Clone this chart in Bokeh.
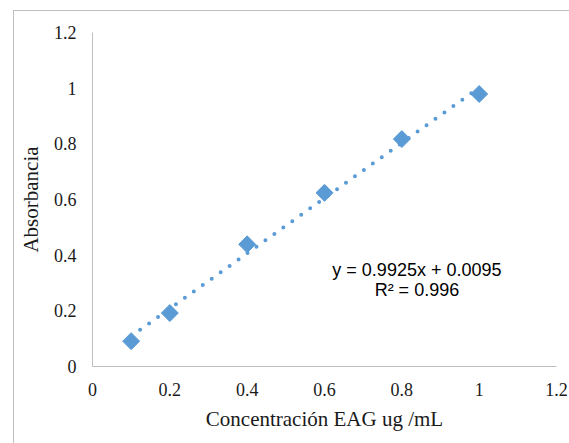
import math
from bokeh.plotting import figure
from bokeh.models import Range1d, FixedTicker, CustomJSTickFormatter, Label, ColumnDataSource, InlineStyleSheet
from bokeh.embed import file_html
from bokeh.resources import INLINE

# Data
concentracion = [0.1, 0.2, 0.4, 0.6, 0.8, 1.0]
absorbancia = [0.091, 0.192, 0.439, 0.624, 0.817, 0.979]
slope = 0.9925
intercept = 0.0095
x_ticks = [0, 0.2, 0.4, 0.6, 0.8, 1.0, 1.2]
y_ticks = [0, 0.2, 0.4, 0.6, 0.8, 1.0, 1.2]
eq_text = "y = 0.9925x + 0.0095\nR² = 0.996"
x_label = "Concentración EAG ug /mL"
y_label = "Absorbancia"

BLUE = "#5B9BD5"
GRAY = "#BFBFBF"
SERIF = "Liberation Serif"

border_css = InlineStyleSheet(css="""
:host { position: relative; }
:host::after {
  content: "";
  position: absolute;
  left: 13px; top: 10px; right: 0; bottom: 0;
  border-left: 1px solid #BFBFBF;
  border-top: 1px solid #BFBFBF;
  pointer-events: none;
}
""")

p = figure(width=569, height=443, output_backend="svg", toolbar_location=None,
           x_range=Range1d(0, 1.2), y_range=Range1d(0, 1.2),
           stylesheets=[border_css])
p.min_border_left = 92
p.min_border_right = 13
p.min_border_top = 32
p.min_border_bottom = 77
p.outline_line_color = None
p.grid.visible = False
p.background_fill_color = "white"
p.border_fill_color = "white"

fmt = CustomJSTickFormatter(code="return tick.toFixed(1).replace(/\\.0$/, '');")
for ax, ticks in ((p.xaxis, x_ticks), (p.yaxis, y_ticks)):
    ax.ticker = FixedTicker(ticks=ticks)
    ax.formatter = fmt
    ax.axis_line_color = GRAY
    ax.axis_line_width = 1
    ax.major_tick_line_color = None
    ax.minor_tick_line_color = None
    ax.major_tick_out = 0
    ax.major_tick_in = 0
    ax.major_label_text_font = SERIF
    ax.major_label_text_font_size = "18px"
    ax.major_label_text_color = "#1a1a1a"
    ax.axis_label_text_font = SERIF
    ax.axis_label_text_font_size = "21px"
    ax.axis_label_text_font_style = "normal"
    ax.axis_label_text_color = "#1a1a1a"

p.xaxis.axis_label = x_label
p.yaxis.axis_label = y_label
p.xaxis.major_label_standoff = 16
p.yaxis.major_label_standoff = 16
p.xaxis.axis_label_standoff = 8
p.yaxis.axis_label_standoff = 8

# Trendline from the regression equation
tx = [concentracion[0], concentracion[-1]]
ty = [slope * v + intercept for v in tx]
p.line(tx, ty, line_color=BLUE, line_width=4, line_dash="0 11", line_cap="round")

src = ColumnDataSource(data=dict(x=concentracion, y=absorbancia))
p.scatter("x", "y", source=src, marker="square", angle=math.pi / 4, size=12,
          fill_color=BLUE, line_color=BLUE)

p.add_layout(Label(x=0.839, y=0.309, text=eq_text, text_align="center", text_baseline="middle",
                   text_font="Liberation Sans", text_font_size="18px", text_color="black",
                   text_line_height=1.0))

open("out.html", "w").write(file_html(p, INLINE))
